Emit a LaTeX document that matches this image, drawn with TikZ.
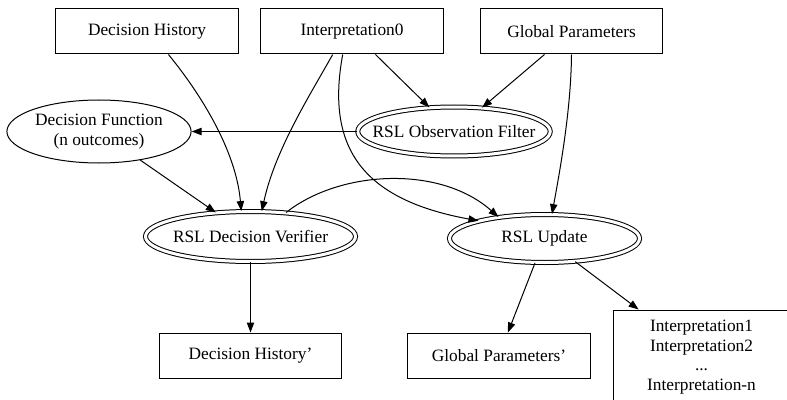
\documentclass[tikz,border=0pt]{standalone}
\usepackage{fontspec}
\setmainfont{Liberation Serif}
\usetikzlibrary{shapes.geometric,arrows.meta}

\tikzset{every picture/.style={line width=0.75pt}}
\tikzset{
  box/.style={draw, rectangle, inner sep=1pt, minimum width=137pt, minimum height=33.75pt, font=\fontsize{13}{15}\selectfont},
  oval/.style={draw, ellipse, inner sep=1pt, font=\fontsize{13}{15}\selectfont, align=center},
  dbloval/.style={oval, inner xsep=-10pt, double, double distance=2.25pt},
  edge/.style={-{Triangle[length=7.5pt,width=5.5pt]}}
}

\begin{document}
\begin{tikzpicture}[x=0.75pt,y=0.75pt,yscale=-1,xscale=1]
    \useasboundingbox (0,0) rectangle (787,399);

    % Inputs
    \node [box] (hist) at (147,31.5) {Decision History};
    \node [box] (interp) at (352,31.5) {Interpretation0};
    \node [box] (params) at (571.5,31.5) {Global Parameters};

    % Ellipses
    \node [oval, minimum width=136.5pt, minimum height=47.25pt] (decfn) at (99,131.5) {Decision Function\\(n outcomes)};
    \node [dbloval, minimum width=140.25pt, minimum height=36.75pt] (filter) at (454,131.5) {RSL Observation Filter};
    \node [dbloval, minimum width=157.5pt, minimum height=37.5pt] (verifier) at (250.5,236.5) {RSL Decision Verifier};
    \node [dbloval, minimum width=142.5pt, minimum height=36pt] (update) at (544.5,238.5) {RSL Update};

    % Outputs
    \node [box] (histout) at (250.5,355.5) {Decision History'};
    \node [box] (paramsout) at (499,355.5) {Global Parameters'};
    \node [draw, rectangle, inner sep=1pt, minimum width=132.75pt, minimum height=70.5pt, align=center, font=\fontsize{13}{14.6}\selectfont] (interpout) at (701.5,357) {Interpretation1\\Interpretation2\\...\\Interpretation-n};

    % Edges
    \draw [edge] (hist.-47) .. controls (200,93) and (236,150) .. (verifier.110);
    \draw [edge] (interp.-130) .. controls (310,95) and (275,150) .. (verifier.66);
    \draw [edge] (interp) -- (filter);
    \draw [edge] (params) -- (filter);
    \draw [edge] (filter) -- (decfn);
    \draw [edge] (decfn) -- (verifier);
    \draw [edge] (interp.-112) .. controls (325,150) and (365,200) .. (update.165);
    \draw [edge] (verifier.34) .. controls (340,170) and (440,165) .. (update.155);
    \draw [edge] (params.south) .. controls (571,110) and (560,170) .. (update.73);
    \draw [edge] (verifier) -- (histout);
    \draw [edge] (update) -- (paramsout);
    \draw [edge] (update) -- (interpout);

\end{tikzpicture}
\end{document}
